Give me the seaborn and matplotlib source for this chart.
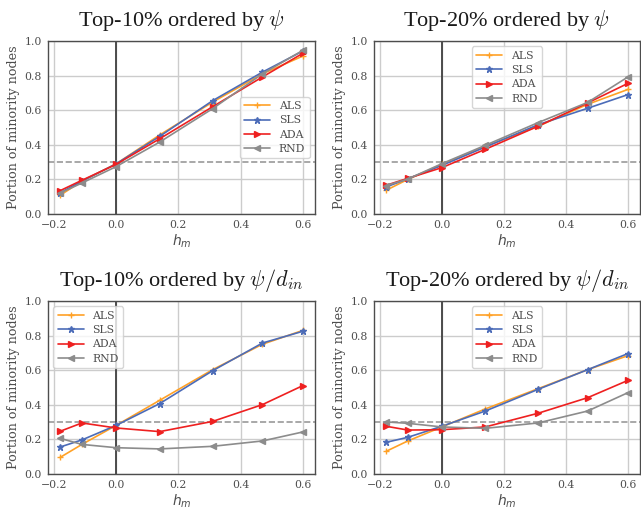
import matplotlib
matplotlib.use("Agg")
import matplotlib.pyplot as plt
import seaborn as sns
import pandas as pd
import numpy as np

h_m = [-0.18, -0.11, 0.0, 0.14, 0.31, 0.47, 0.6]
methods = ["ALS", "SLS", "ADA", "RND"]

# Top-10% ordered by psi
p1_ALS = [0.108, 0.19, 0.29, 0.457, 0.647, 0.81, 0.913]
p1_SLS = [0.123, 0.19, 0.29, 0.449, 0.655, 0.82, 0.942]
p1_ADA = [0.135, 0.195, 0.287, 0.435, 0.62, 0.792, 0.929]
p1_RND = [0.121, 0.179, 0.274, 0.416, 0.609, 0.81, 0.946]
# Top-20% ordered by psi
p2_ALS = [0.137, 0.2, 0.287, 0.391, 0.507, 0.634, 0.72]
p2_SLS = [0.156, 0.204, 0.281, 0.387, 0.516, 0.611, 0.69]
p2_ADA = [0.166, 0.206, 0.268, 0.374, 0.507, 0.642, 0.755]
p2_RND = [0.164, 0.202, 0.291, 0.397, 0.528, 0.645, 0.792]
# Top-10% ordered by psi/d_in
p3_ALS = [0.096, 0.171, 0.281, 0.426, 0.603, 0.75, 0.83]
p3_SLS = [0.156, 0.197, 0.281, 0.407, 0.597, 0.757, 0.825]
p3_ADA = [0.247, 0.295, 0.266, 0.245, 0.304, 0.401, 0.511]
p3_RND = [0.206, 0.171, 0.152, 0.145, 0.16, 0.191, 0.243]
# Top-20% ordered by psi/d_in
p4_ALS = [0.131, 0.191, 0.272, 0.376, 0.493, 0.603, 0.684]
p4_SLS = [0.183, 0.212, 0.276, 0.364, 0.489, 0.603, 0.696]
p4_ADA = [0.276, 0.254, 0.256, 0.272, 0.351, 0.441, 0.541]
p4_RND = [0.301, 0.293, 0.272, 0.264, 0.295, 0.364, 0.47]

titles = [r"Top-10% ordered by $\psi$", r"Top-20% ordered by $\psi$",
          r"Top-10% ordered by $\psi/d_{in}$", r"Top-20% ordered by $\psi/d_{in}$"]
panels = [(p1_ALS, p1_SLS, p1_ADA, p1_RND), (p2_ALS, p2_SLS, p2_ADA, p2_RND),
          (p3_ALS, p3_SLS, p3_ADA, p3_RND), (p4_ALS, p4_SLS, p4_ADA, p4_RND)]
legend_locs = ["center right", "upper center", "upper left", "upper center"]
baseline = 0.3

sns.set_theme(style="whitegrid")
plt.rcParams["font.family"] = ["DejaVu Serif"]
plt.rcParams["axes.edgecolor"] = "0.3"
plt.rcParams["axes.linewidth"] = 1.0

palette = {"ALS": "#FFA126", "SLS": "#4C6CB8", "ADA": "#EE2020", "RND": "#8C8C8C"}
markers = {"ALS": "+", "SLS": "*", "ADA": ">", "RND": "<"}

fig = plt.figure(figsize=(6.41, 5.13), dpi=100)
W, H = 641, 513
boxes = [(48, 41, 315, 214), (374, 41, 640, 214), (48, 301, 315, 474), (374, 301, 640, 474)]

for i, (box, vals) in enumerate(zip(boxes, panels)):
    l, t, r, b = box
    ax = fig.add_axes([l / W, 1 - b / H, (r - l) / W, (b - t) / H])
    ax.axhline(baseline, color="0.6", ls="--", lw=1.2, zorder=1)
    ax.axvline(0.0, color="0.25", lw=1.3, zorder=1)
    for m, v in zip(methods, vals):
        df = pd.DataFrame({"h": h_m, "val": v})
        sns.lineplot(data=df, x="h", y="val", ax=ax, color=palette[m],
                     marker=markers[m], label=m, lw=1.2, markersize=5,
                     markeredgewidth=1.0, markeredgecolor=palette[m], zorder=3)
    ax.set_ylim(0, 1.0)
    ax.set_xticks([-0.2, 0.0, 0.2, 0.4, 0.6])
    ax.set_xticklabels(["\u22120.2", "0.0", "0.2", "0.4", "0.6"])
    ax.set_yticks([0, 0.2, 0.4, 0.6, 0.8, 1.0])
    ax.tick_params(labelsize=7.8, colors="0.3", length=0, pad=4.5)
    ax.set_xlabel(r"$h_m$", fontsize=10, color="0.3", labelpad=2)
    ax.set_ylabel("Portion of minority nodes", fontsize=9.2, color="0.3", labelpad=3)
    ax.set_title(titles[i], fontsize=16, family="Liberation Serif",
                 math_fontfamily="cm", color="0.1", pad=11)
    for s in ax.spines.values():
        s.set_color("0.3")
    leg = ax.legend(loc=legend_locs[i], fontsize=7.8, frameon=True, handlelength=2.4,
                    borderpad=0.4, labelspacing=0.4, handletextpad=0.8)
    for txt in leg.get_texts():
        txt.set_color("0.3")

fig.savefig("out.png", dpi=100)
